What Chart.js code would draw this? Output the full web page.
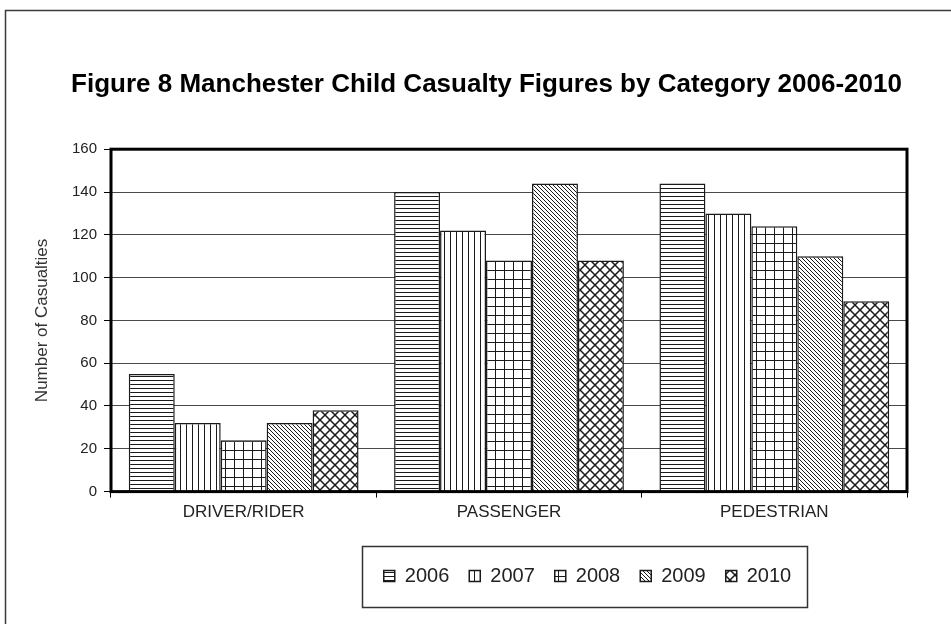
<!DOCTYPE html>
<html>
<head>
<meta charset="utf-8">
<script src="https://cdn.jsdelivr.net/npm/chart.js@4"></script>
<style>
	html, body { margin: 0; padding: 0; background: #fff; }
	#wrap { width: 951px; height: 624px; }
</style>
</head>
<body>
<div id="wrap"><canvas id="chart" width="951" height="624"></canvas></div>
<script>
const categories = ['DRIVER/RIDER', 'PASSENGER', 'PEDESTRIAN'];
const years = ['2006', '2007', '2008', '2009', '2010'];
const values2006 = [55, 140, 144];
const values2007 = [32, 122, 130];
const values2008 = [24, 108, 124];
const values2009 = [32, 144, 110];
const values2010 = [38, 108, 89];
const yTicks = [0, 20, 40, 60, 80, 100, 120, 140, 160];

const ink = '#1a1a1a';

// small tiles used as bar fills
function makePattern(kind) {
	const size = { horizontal: 4, vertical: 6, grid: 9, diagonal: 4, cross: 10 }[kind];
	const c = document.createElement('canvas');
	c.width = size;
	c.height = size;
	const g = c.getContext('2d');
	g.fillStyle = '#fff';
	g.fillRect(0, 0, size, size);
	g.fillStyle = ink;
	g.strokeStyle = ink;
	if (kind === 'horizontal') {
		g.fillRect(0, 0, size, 1);
	} else if (kind === 'vertical') {
		g.fillRect(0, 0, 1, size);
	} else if (kind === 'grid') {
		g.fillRect(0, 0, size, 1);
		g.fillRect(0, 0, 1, size);
	} else if (kind === 'diagonal') {
		for (let i = 0; i < size; i++) g.fillRect(i, i, 1, 1);
	} else if (kind === 'cross') {
		g.lineWidth = 1.5;
		g.beginPath();
		g.moveTo(-1, -1); g.lineTo(size + 1, size + 1);
		g.moveTo(size + 1, -1); g.lineTo(-1, size + 1);
		g.stroke();
	}
	return g.createPattern(c, 'repeat');
}

const fills = [makePattern('horizontal'), makePattern('vertical'), makePattern('grid'), makePattern('diagonal'), makePattern('cross')];
const series = [values2006, values2007, values2008, values2009, values2010];

const framePlugin = {
	id: 'frames',
	afterLayout(chart) {
		// legend sits under the right half of the plot, title a little right of centre
		chart.legend.left += 124;
		chart.legend.right += 124;
		chart.titleBlock.left += 23;
		chart.titleBlock.right += 23;
	},
	beforeDraw(chart) {
		const ctx = chart.ctx;
		ctx.save();
		ctx.fillStyle = '#fff';
		ctx.fillRect(0, 0, chart.width, chart.height);
		ctx.strokeStyle = '#3a3a3a';
		ctx.lineWidth = 1.5;
		ctx.strokeRect(5.5, 10.5, 1000, 1000);
		ctx.restore();
	},
	afterDraw(chart) {
		const ctx = chart.ctx;
		const a = chart.chartArea;
		ctx.save();
		ctx.strokeStyle = '#000';
		ctx.lineWidth = 3;
		ctx.strokeRect(a.left, a.top, a.right - a.left, a.bottom - a.top);
		// box round the legend items
		const boxes = chart.legend.legendHitBoxes;
		if (boxes && boxes.length) {
			const left = Math.min(...boxes.map(b => b.left));
			const right = Math.max(...boxes.map(b => b.left + b.width));
			const mid = boxes[0].top + boxes[0].height / 2;
			ctx.strokeStyle = '#333';
			ctx.lineWidth = 1.5;
			ctx.strokeRect(Math.round(left - 22) + 0.5, Math.round(mid - 30) + 0.5, Math.round(right - left + 38), 61);
		}
		ctx.restore();
	}
};

function init() {
	const config = {
		type: 'bar',
		data: {
			labels: categories,
			datasets: years.map((year, i) => ({
				label: year,
				data: series[i],
				backgroundColor: fills[i],
				borderColor: ink,
				borderWidth: 1.5,
				categoryPercentage: 0.866,
				barPercentage: 1
			}))
		},
		options: {
			responsive: false,
			animation: false,
			layout: { padding: { left: 20, right: 44, top: 0, bottom: 28 } },
			plugins: {
				tooltip: { enabled: false },
				title: {
					display: true,
					text: 'Figure 8 Manchester Child Casualty Figures by Category 2006-2010',
					color: '#000',
					font: { family: 'Liberation Sans, Arial, sans-serif', size: 26, weight: 'bold' },
					padding: { top: 69, bottom: 49 }
				},
				legend: {
					position: 'bottom',
					labels: {
						color: '#222',
						font: { family: 'Liberation Sans, Arial, sans-serif', size: 20 },
						boxWidth: 11,
						boxHeight: 11,
						padding: 20
					}
				}
			},
			scales: {
				x: {
					afterFit(scale) {
						scale.height += 18;
					},
					grid: { display: true, drawOnChartArea: false, drawTicks: true, tickLength: 6, color: '#000', offset: true },
					border: { display: false },
					ticks: {
						color: '#222',
						padding: 5,
						font: { family: 'Liberation Sans, Arial, sans-serif', size: 17 }
					}
				},
				y: {
					min: 0,
					max: 160,
					afterBuildTicks(scale) {
						scale.ticks = yTicks.map(v => ({ value: v }));
					},
					afterFit(scale) {
						scale.width = 91;
					},
					grid: { color: '#4a4a4a', lineWidth: 1, tickLength: 7, tickColor: '#000' },
					border: { display: false },
					ticks: {
						color: '#222',
						padding: 7,
						font: { family: 'Liberation Sans, Arial, sans-serif', size: 15 }
					},
					title: {
						display: true,
						text: 'Number of Casualties',
						color: '#333',
						padding: 12,
						font: { family: 'Liberation Sans, Arial, sans-serif', size: 17 }
					}
				}
			}
		},
		plugins: [framePlugin]
	};
	new Chart(document.getElementById('chart'), config);
}

init();
</script>
</body>
</html>
